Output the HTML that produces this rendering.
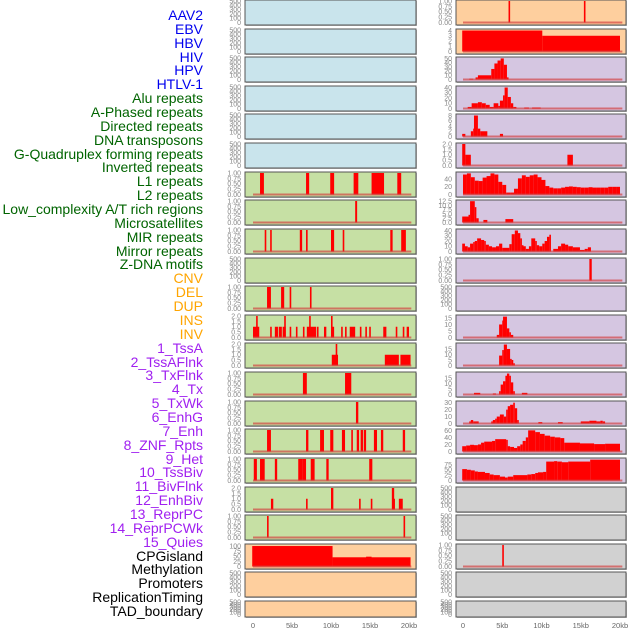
<!DOCTYPE html>
<html><head><meta charset="utf-8">
<style>
html,body{margin:0;padding:0;background:#fff;}
body{width:630px;height:630px;overflow:hidden;position:relative;font-family:"Liberation Sans",sans-serif;}
#labels div{position:absolute;right:427px;font-size:14px;white-space:nowrap;line-height:14px;}
</style></head>
<body>
<div id="labels"></div>
<svg id="chart" width="630" height="630" style="position:absolute;left:0;top:0"></svg>
<script>
// ---- labels ----
const labelNames = ["AAV2","EBV","HBV","HIV","HPV","HTLV-1","Alu repeats","A-Phased repeats","Directed repeats","DNA transposons","G-Quadruplex forming repeats","Inverted repeats","L1 repeats","L2 repeats","Low_complexity A/T rich regions","Microsatellites","MIR repeats","Mirror repeats","Z-DNA motifs","CNV","DEL","DUP","INS","INV","1_TssA","2_TssAFlnk","3_TxFlnk","4_Tx","5_TxWk","6_EnhG","7_Enh","8_ZNF_Rpts","9_Het","10_TssBiv","11_BivFlnk","12_EnhBiv","13_ReprPC","14_ReprPCWk","15_Quies","CPGisland","Methylation","Promoters","ReplicationTiming","TAD_boundary"];
const labelGroups = [6,13,5,15,5];
const groupColors = ["#0000ee","#006400","#ffa500","#a020f0","#000000"];

// ---- x axis ----
const xTickValues = [0,5,10,15,20];
const xTickLabels = ["0","5kb","10kb","15kb","20kb"];

// ---- tick label sets ----
const t500 = ["0","100","200","300","400","500"];
const t1 = ["0.00","0.25","0.50","0.75","1.00"];
const t2 = ["0.0","0.5","1.0","1.5","2.0"];

// ---- series data: [startKb, endKb, value] ----
const r00 = [[5.8,6.0,1],[15.4,15.6,1]];
const r01 = [[-0.1,10.1,4],[10.1,20.0,3]];
const r02 = [[0.8,1.3,2],[1.6,1.9,5],[1.9,3.6,10],[3.6,4.0,25],[4.0,4.4,38],[4.4,4.8,45],[4.8,5.2,50],[5.2,5.6,35],[5.6,5.8,5]];
const r03 = [[0.6,1.1,3],[1.1,1.9,10],[1.9,2.4,12],[2.4,2.9,10],[2.9,3.4,7],[3.4,3.9,3],[3.9,4.5,10],[4.5,4.7,5],[4.7,5.1,15],[5.1,5.3,25],[5.3,5.7,40],[5.7,6.1,22],[6.1,6.4,10],[6.4,6.8,3],[7.8,8.4,2],[8.8,9.9,2]];
const r04 = [[-0.1,0.3,1],[1.0,1.3,2],[1.3,1.4,3],[1.4,1.9,8],[1.9,2.2,3],[2.2,3.1,2],[4.7,5.1,1]];
const r05 = [[-0.1,0.3,2],[0.3,1.0,1],[13.3,14.0,1]];
const r06bins = [52,55,45,36,35,44,48,55,52,33,25,5,5,15,42,50,46,50,52,45,38,22,18,16,16,18,20,21,20,19,18,18,19,18,18,18,18,20,20,20];
const r07 = [[-0.1,0.7,3.5],[0.7,0.9,4.5],[0.9,1.5,12.5],[1.5,1.7,9],[1.7,2.0,2.5],[2.6,3.1,1.5],[5.4,6.4,2]];
const r08 = [[-0.1,0.25,15],[0.25,0.6,10],[0.6,0.9,8],[0.9,1.3,15],[1.3,1.5,18],[1.5,1.8,20],[1.8,2.3,25],[2.3,2.7,22],[2.7,2.9,20],[2.9,3.3,13],[3.3,3.7,10],[3.7,4.2,8],[4.2,4.6,10],[4.6,5.0,15],[5.0,5.9,7],[5.9,6.2,14],[6.2,6.6,33],[6.6,7.0,40],[7.0,7.3,35],[7.3,7.5,25],[7.5,7.6,12],[7.6,8.0,10],[8.0,8.4,5],[8.4,8.7,10],[8.7,9.2,25],[9.2,9.4,20],[9.4,9.7,12],[9.7,10.1,10],[10.1,10.4,15],[10.4,10.7,20],[10.7,11.0,28],[11.0,11.2,32],[11.5,12.1,5],[12.1,12.5,10],[12.5,13.0,15],[13.0,13.4,13],[13.4,14.0,10],[14.0,14.9,8],[14.9,15.5,3],[15.5,15.9,5],[15.9,16.3,8]];
const r09 = [[16.1,16.4,1]];
const r11 = [[4.3,4.6,2],[4.6,5.0,10],[5.0,5.1,13],[5.1,5.6,16],[5.6,5.9,7],[5.9,6.1,4],[6.1,6.4,2]];
const r12 = [[4.6,5.0,9],[5.0,5.2,14],[5.2,5.6,19],[5.6,6.0,15],[6.0,6.2,6],[6.2,6.4,5],[6.4,6.5,2]];
const r13 = [[1.4,2.2,1.5],[3.8,4.2,1],[4.6,4.8,3],[4.8,5.1,9],[5.1,5.4,12],[5.4,5.6,17],[5.6,5.9,19],[5.9,6.1,17],[6.1,6.4,11],[6.4,6.6,3],[7.5,8.2,1.5]];
const r14 = [[0.8,1.0,3],[1.0,1.3,5],[1.3,2.0,3],[3.6,3.8,3],[3.8,4.1,5],[4.1,4.3,7],[4.3,4.7,10],[4.7,5.2,13],[5.2,5.5,10],[5.5,5.7,20],[5.7,6.0,25],[6.0,6.4,27],[6.4,6.6,30],[6.6,6.9,22],[6.9,7.0,5],[9.6,10.1,2],[12.1,12.7,2],[15.0,16.1,3],[16.1,17.0,4],[17.0,17.5,3],[17.5,17.8,4],[17.8,18.1,3]];
const r15 = [[-0.1,0.4,15],[0.4,0.9,17],[0.9,1.4,19],[1.4,1.9,18],[1.9,2.3,20],[2.3,2.7,25],[2.7,3.7,28],[3.7,4.1,30],[4.1,5.5,35],[5.5,5.7,33],[5.7,6.0,15],[6.0,6.5,13],[6.5,6.9,10],[6.9,7.3,15],[7.3,7.6,20],[7.6,8.0,30],[8.0,8.3,40],[8.3,9.2,60],[9.2,9.8,55],[9.8,10.4,50],[10.4,11.1,45],[11.1,11.7,42],[11.7,12.4,40],[12.4,12.9,38],[12.9,14.9,25],[14.9,16.7,23],[16.7,18.1,21],[18.1,20.0,22]];
const r16 = [[-0.1,0.5,53],[0.5,1.0,50],[1.0,1.5,47],[1.5,1.9,42],[1.9,2.8,40],[2.8,3.4,35],[3.4,3.9,28],[3.9,4.7,25],[4.7,5.35,18],[5.35,5.7,14],[5.7,6.4,18],[6.4,8.2,25],[8.2,8.7,28],[8.7,9.2,30],[9.2,9.55,35],[9.55,10.2,38],[10.2,10.6,40],[10.6,11.6,88],[11.6,12.0,90],[12.0,12.6,88],[12.6,13.4,85],[13.4,16.2,88],[16.2,20.0,97]];
const r19 = [[5.0,5.2,1]];

const l06 = [[0.9,1.4,1],[6.8,7.2,1],[9.9,10.4,1],[12.9,13.5,1],[15.2,16.8,1],[18.5,19.0,1]];
const l07 = [[13.1,13.35,1]];
const l08 = [[1.5,1.7,1],[2.2,2.4,1],[6.0,6.3,1],[6.8,7.0,1],[10.0,10.4,1],[11.5,11.7,1],[17.6,17.9,1],[19.0,19.6,1]];
const l10 = [[1.8,2.3,1],[3.6,4.0,1],[4.7,4.9,1],[7.3,7.45,1]];
const l11 = [[0,0.8,1],[0.4,0.5,2],[2.2,2.3,1],[2.8,3.2,1],[3.3,3.7,1],[3.8,4.2,1],[4.0,4.1,2],[4.7,4.9,1],[5.5,5.6,1],[6.4,6.5,1],[6.9,8.1,1],[7.2,7.3,2],[8.2,8.3,1],[9.1,9.4,1],[10.0,10.1,2],[10.1,10.4,1],[11.3,11.4,1],[11.8,11.9,1],[12.4,13.1,1],[13.7,13.8,1],[14.4,14.5,1],[14.9,15.1,1],[16.7,17.1,1],[18.3,18.5,1],[19.2,19.4,1],[19.7,20.0,1]];
const l12 = [[10.1,10.9,1],[10.6,10.8,2],[16.9,18.7,1],[18.9,20.2,1]];
const l13 = [[6.4,6.9,1],[11.8,12.6,1]];
const l14 = [[13.2,13.5,1]];
const l15 = [[1.8,2.3,1],[6.8,7.1,1],[8.6,9.1,1],[9.9,10.3,1],[11.4,11.8,1],[12.6,12.8,1],[13.3,13.6,1],[13.8,14.1,1],[14.2,14.5,1],[15.5,15.9,1],[16.4,16.7,1],[19.2,19.5,1]];
const l16 = [[0.1,0.5,1],[0.9,1.5,1],[2.8,3.1,1],[5.8,6.3,1],[6.3,6.8,1],[7.4,7.9,1],[9.4,9.7,1],[14.9,15.3,1]];
const l17 = [[2.3,2.6,1],[6.8,6.95,1],[10.0,10.3,2],[13.6,13.8,1],[15.1,15.3,1],[17.8,18.1,2],[17.9,18.2,1],[18.7,19.2,1]];
const l18 = [[1.8,2.0,1],[19.3,19.5,1]];
const l19 = [[-0.1,10.2,100],[10.2,20.2,45],[14.5,15.2,48]];

const BLUE="#c9e4ec",GREEN="#c6e0a4",ORANGE="#fecf9e",PURPLE="#d5c6e1",GRAY="#d1d1d1";
function binsToSeg(b){return b.map((v,i)=>[i*0.5,i*0.5+0.5,v]);}
const leftPanels = [
 [BLUE,null,500,t500],[BLUE,null,500,t500],[BLUE,null,500,t500],[BLUE,null,500,t500],[BLUE,null,500,t500],[BLUE,null,500,t500],
 [GREEN,l06,1,t1],[GREEN,l07,1,t1],[GREEN,l08,1,t1],[GREEN,null,500,t500],[GREEN,l10,1,t1],[GREEN,l11,2,t2],
 [GREEN,l12,2,t2],[GREEN,l13,1,t1],[GREEN,l14,1,t1],[GREEN,l15,1,t1],[GREEN,l16,1,t1],[GREEN,l17,2,t2],[GREEN,l18,1,t1],
 [ORANGE,l19,105,["0","25","50","75","100"],[0,25,50,75,100]],[ORANGE,null,500,t500],[ORANGE,null,500,t500]
];
const rightPanels = [
 [ORANGE,r00,1,t1],[ORANGE,r01,4.1,["0","1","2","3","4"],[0,1,2,3,4]],
 [PURPLE,r02,51,["0","10","20","30","40","50"],[0,10,20,30,40,50]],
 [PURPLE,r03,41,["0","10","20","30","40"],[0,10,20,30,40]],
 [PURPLE,r04,8.2,["0","2","4","6","8"],[0,2,4,6,8]],
 [PURPLE,r05,2,t2],
 [PURPLE,binsToSeg(r06bins),56,["0","20","40"],[0,20,40]],
 [PURPLE,r07,12.6,["0.0","2.5","5.0","7.5","10.0","12.5"],[0,2.5,5,7.5,10,12.5]],
 [PURPLE,r08,41,["0","10","20","30","40"],[0,10,20,30,40]],
 [PURPLE,r09,1,t1],[PURPLE,null,500,t500],
 [PURPLE,r11,16.5,["0","5","10","15"],[0,5,10,15]],
 [PURPLE,r12,19.5,["0","5","10","15"],[0,5,10,15]],
 [PURPLE,r13,19.5,["0","5","10","15"],[0,5,10,15]],
 [PURPLE,r14,31,["0","10","20","30"],[0,10,20,30]],
 [PURPLE,r15,61,["0","20","40","60"],[0,20,40,60]],
 [PURPLE,r16,100,["0","25","50","75"],[0,25,50,75]],
 [GRAY,null,500,t500],[GRAY,null,500,t500],[GRAY,r19,1,t1],[GRAY,null,500,t500],[GRAY,null,500,t500]
];

const NS="http://www.w3.org/2000/svg";
const svg=document.getElementById('chart');
function mk(tag,attrs,parent){const e=document.createElementNS(NS,tag);for(const k in attrs)e.setAttribute(k,attrs[k]);(parent||svg).appendChild(e);return e;}

const lab=document.getElementById('labels');
let gi=0,cnt=0;
labelNames.forEach((n,i)=>{
  while(cnt>=labelGroups[gi]){gi++;cnt=0;}
  cnt++;
  const d=document.createElement('div');
  d.textContent=n;
  d.style.top=(15+13.86*i-7)+'px';
  d.style.color=groupColors[gi];
  
  
  lab.appendChild(d);
});

function drawPanel(p,idx,side){
  const [bg,data,ymax,ticks,tv]=p;
  const top=Math.round(idx*28.62);
  const h= idx===21?16:25;
  const px = side==='left'?245:456, pw = side==='left'?171:170;
  const x0 = side==='left'?253:463, kx = side==='left'?7.8:7.85;
  const X=kb=>x0+kb*kx;
  const Y=v=>top+h-2.5-(v/ymax)*(h-3.5);
  const g=mk('g',{});
  
  
  mk('rect',{x:px+1,y:top+1,width:pw,height:h,fill:'#bbb'},g);
  const r=mk('rect',{x:px,y:top,width:pw,height:h,fill:bg,stroke:'#555','stroke-width':1},g);
  
  
  const tvals = tv || ticks.map(t=>parseFloat(t));
  ticks.forEach((t,i)=>{
    const tx=mk('text',{x:px-4,y:Y(tvals[i])+2.4,'font-size':7,fill:'#888','text-anchor':'end'},g);
    tx.textContent=t;
    
    
  });
  if(data){
    data.forEach(s=>{
      const xa=X(s[0]),xb=X(s[1]);
      const b=mk('rect',{x:xa,y:Y(s[2]),width:Math.max(1.6,xb-xa),height:Y(0)-Y(s[2]),fill:'#ff0000'},g);
      
      
    });
    const bl=mk('line',{x1:X(0),x2:X(20.3),y1:Y(0),y2:Y(0),stroke:'rgba(210,60,60,0.65)','stroke-width':2},g);
    
    
  }
}
leftPanels.forEach((p,i)=>drawPanel(p,i,'left'));
rightPanels.forEach((p,i)=>drawPanel(p,i,'right'));

[['left',253,7.8],['right',463,7.85]].forEach(([side,x0,k])=>{
  xTickValues.forEach((v,i)=>{
    const t=mk('text',{x:x0+v*k,y:628,'font-size':7.5,fill:'#666','text-anchor':'middle'});
    t.textContent=xTickLabels[i];
    
    
  });
});
</script>
</body></html>
